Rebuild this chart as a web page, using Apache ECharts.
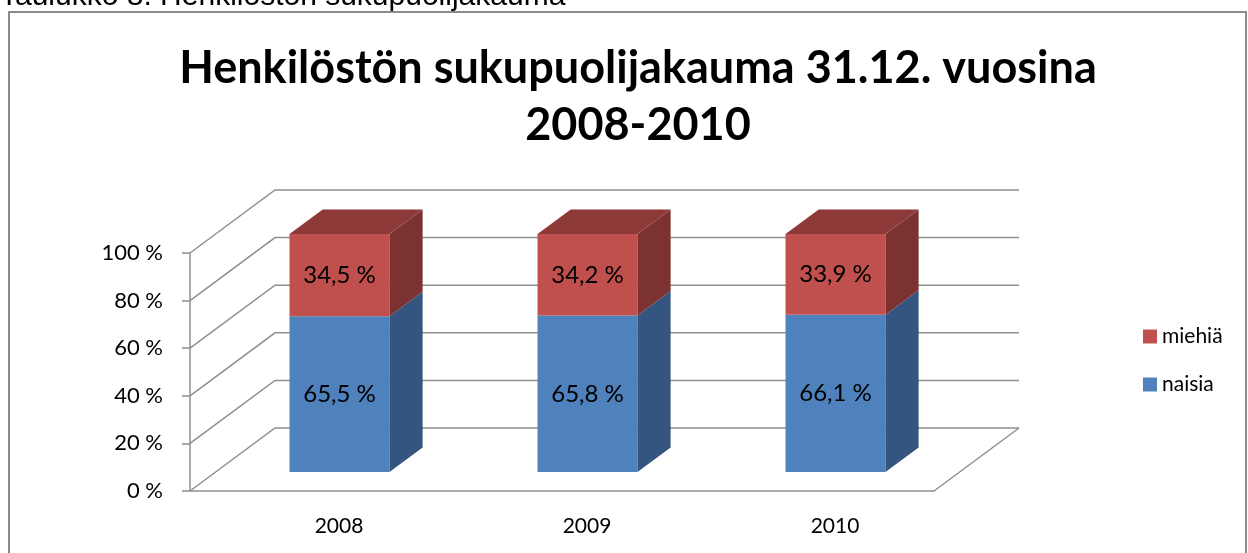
<!DOCTYPE html>
<html>
<head>
<meta charset="utf-8">
<script src="https://cdn.jsdelivr.net/npm/echarts@6/dist/echarts.min.js"></script>
<style>
  html, body { margin: 0; padding: 0; background: #fff; }
  #main { width: 1248px; height: 553px; }
</style>
</head>
<body>
<div id="main"></div>
<script>
var categories = ['2008', '2009', '2010'];
var naisia = [65.5, 65.8, 66.1];
var miehia = [34.5, 34.2, 33.9];
var yTicks = [0, 20, 40, 60, 80, 100];

// 3D depth of the walls (px) and where the bars sit inside it
var DX = 85, DY = -63;
var F0 = 0.3, F1 = 0.69;
var gridColor = '#8f8f8f';
var font = 'Lato, "Liberation Sans", Arial, sans-serif';

function fmt(v) {
    return v.toFixed(1).replace('.', ',') + ' %';
}

// stacked segments: [category, start, end]
var naisiaData = naisia.map(function (v, i) { return [i, 0, v]; });
var miehiaData = miehia.map(function (v, i) { return [i, naisia[i], naisia[i] + v]; });

var myChart = echarts.init(document.getElementById('main'));

function renderWalls(params, api) {
    var cs = params.coordSys;
    var children = [];
    var lineStyle = { stroke: gridColor, lineWidth: 1.5, fill: null };
    yTicks.forEach(function (t) {
        var y = api.coord([0, t])[1];
        children.push({
            type: 'polyline',
            shape: { points: [[cs.x, y], [cs.x + DX, y + DY], [cs.x + cs.width + DX, y + DY]] },
            style: lineStyle
        });
    });
    var y0 = api.coord([0, 0])[1];
    children.push({
        type: 'line',
        shape: { x1: cs.x + cs.width, y1: y0, x2: cs.x + cs.width + DX, y2: y0 + DY },
        style: lineStyle
    });
    return { type: 'group', children: children };
}

function makeBarRenderer(front, side, top, drawTop) {
    return function (params, api) {
        var cat = api.value(0);
        var p0 = api.coord([cat, api.value(1)]);
        var p1 = api.coord([cat, api.value(2)]);
        var w = api.size([1, 0])[0] * 0.403;
        var ox = DX * F0, oy = DY * F0;
        var dx = DX * (F1 - F0), dy = DY * (F1 - F0);
        var xl = p0[0] - w / 2 + ox, xr = xl + w;
        var yb = p0[1] + oy, yt = p1[1] + oy;
        var children = [
            { type: 'rect', shape: { x: xl, y: yt, width: w, height: yb - yt }, style: { fill: front } },
            { type: 'polygon', shape: { points: [[xr, yb], [xr + dx, yb + dy], [xr + dx, yt + dy], [xr, yt]] }, style: { fill: side } }
        ];
        if (drawTop) {
            children.push({ type: 'polygon', shape: { points: [[xl, yt], [xr, yt], [xr + dx, yt + dy], [xl + dx, yt + dy]] }, style: { fill: top } });
        }
        children.push({
            type: 'text',
            style: {
                text: fmt(api.value(2) - api.value(1)),
                x: (xl + xr) / 2, y: (yb + yt) / 2,
                align: 'center', verticalAlign: 'middle',
                fill: '#000', font: '24px ' + font
            }
        });
        return { type: 'group', children: children };
    };
}

var option = {
    animation: false,
    title: {
        text: 'Henkilöstön sukupuolijakauma 31.12. vuosina\n2008-2010',
        left: 633,
        textAlign: 'center',
        top: 35,
        textStyle: { fontFamily: font, fontSize: 45, fontWeight: 'bold', color: '#000', lineHeight: 57 }
    },
    graphic: [
        {
            type: 'text', left: 0, top: -18,
            style: { text: 'Taulukko 8. Henkilöstön sukupuolijakauma', font: '30px "Liberation Sans", Arial, sans-serif', fill: '#000' }
        },
        {
            type: 'rect', shape: { x: 9, y: 12, width: 1237, height: 560 },
            style: { fill: null, stroke: '#8a8a8a', lineWidth: 2 }, z: 100
        }
    ],
    legend: {
        data: ['miehiä', 'naisia'],
        orient: 'vertical',
        left: 1138,
        top: 321,
        icon: 'rect',
        itemWidth: 14,
        itemHeight: 14,
        itemGap: 27,
        textStyle: { fontFamily: font, fontSize: 21, color: '#000' }
    },
    grid: { left: 190, top: 253, width: 744, height: 238 },
    xAxis: {
        type: 'category',
        data: categories,
        axisLine: { lineStyle: { color: gridColor, width: 1.5 } },
        axisTick: { length: 7, lineStyle: { color: gridColor, width: 1.5 } },
        axisLabel: { fontFamily: font, fontSize: 21, color: '#000', margin: 25, padding: [0, 0, 0, 50] }
    },
    yAxis: {
        type: 'value',
        min: 0, max: 100, interval: 20,
        axisLine: { show: true, lineStyle: { color: gridColor, width: 1.5 } },
        axisTick: { show: true, length: 8, lineStyle: { color: gridColor, width: 1.5 } },
        splitLine: { show: false },
        axisLabel: { fontFamily: font, fontSize: 22, color: '#000', margin: 27, formatter: '{value} %' }
    },
    series: [
        {
            name: 'walls', type: 'custom', clip: false, z: 1, silent: true,
            renderItem: renderWalls,
            data: [[0, 0]]
        },
        {
            name: 'naisia', type: 'custom', clip: false, z: 2,
            itemStyle: { color: '#4f81bd' },
            renderItem: makeBarRenderer('#4f81bd', '#34557f', '#3f6797', false),
            data: naisiaData
        },
        {
            name: 'miehiä', type: 'custom', clip: false, z: 3,
            itemStyle: { color: '#c0504d' },
            renderItem: makeBarRenderer('#c0504d', '#7b3230', '#8d3a38', true),
            data: miehiaData
        }
    ]
};

myChart.setOption(option);
</script>
</body>
</html>
